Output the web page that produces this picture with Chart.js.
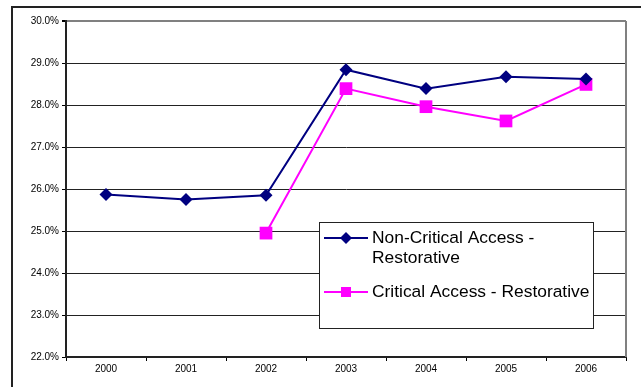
<!DOCTYPE html>
<html>
<head>
<meta charset="utf-8">
<script src="https://cdn.jsdelivr.net/npm/chart.js@4"></script>
<style>
  html, body { margin: 0; padding: 0; background: #fff; }
  #chart { display: block; }
</style>
</head>
<body>
<canvas id="chart" width="641" height="387"></canvas>
<script>
const years = ['2000', '2001', '2002', '2003', '2004', '2005', '2006'];
const nonCritical = [25.87, 25.75, 25.85, 28.84, 28.39, 28.67, 28.62];
const critical = [null, null, 24.95, 28.39, 27.96, 27.62, 28.49];
const seriesNames = [['Non-Critical Access -', 'Restorative'], ['Critical Access - Restorative']];
const yMin = 22, yMax = 30;

const NAVY = '#000080';
const MAGENTA = '#FF00FF';

Chart.defaults.font.family = '"Liberation Sans", Arial, sans-serif';
Chart.defaults.font.size = 10;
Chart.defaults.color = '#000';

// outer frame, right plot border, and the boxed legend
const framePlugin = {
    id: 'frame',
    beforeDraw(chart) {
        const ctx = chart.ctx;
        ctx.save();
        ctx.strokeStyle = '#222';
        ctx.lineWidth = 2;
        ctx.beginPath();
        ctx.moveTo(12, 400);
        ctx.lineTo(12, 7);
        ctx.lineTo(660, 7);
        ctx.stroke();
        ctx.restore();
    },
    beforeDatasetsDraw(chart) {
        const { ctx, chartArea } = chart;
        ctx.save();
        ctx.strokeStyle = '#808080';
        ctx.lineWidth = 2;
        ctx.beginPath();
        ctx.moveTo(chartArea.right, chartArea.top);
        ctx.lineTo(chartArea.right, chartArea.bottom);
        ctx.stroke();
        ctx.restore();
    },
    afterDraw(chart) {
        const ctx = chart.ctx;
        const box = { x: 319, y: 222, w: 274, h: 106 };
        ctx.save();
        ctx.fillStyle = '#fff';
        ctx.fillRect(box.x, box.y, box.w, box.h);
        ctx.strokeStyle = '#222';
        ctx.lineWidth = 1;
        ctx.strokeRect(box.x + 0.5, box.y + 0.5, box.w, box.h);

        const rows = [
            { y: 238, color: NAVY, marker: 'diamond', lines: seriesNames[0] },
            { y: 292, color: MAGENTA, marker: 'square', lines: seriesNames[1] }
        ];
        ctx.font = '17.4px "Liberation Sans", Arial, sans-serif';
        ctx.textBaseline = 'middle';
        rows.forEach(r => {
            ctx.strokeStyle = r.color;
            ctx.lineWidth = 2;
            ctx.beginPath();
            ctx.moveTo(324, r.y);
            ctx.lineTo(368, r.y);
            ctx.stroke();
            ctx.fillStyle = r.color;
            if (r.marker === 'diamond') {
                ctx.beginPath();
                ctx.moveTo(346, r.y - 6);
                ctx.lineTo(352, r.y);
                ctx.lineTo(346, r.y + 6);
                ctx.lineTo(340, r.y);
                ctx.closePath();
                ctx.fill();
            } else {
                ctx.fillRect(341, r.y - 5, 10, 10);
            }
            ctx.fillStyle = '#000';
            r.lines.forEach((t, i) => ctx.fillText(t, 372, r.y + i * 20));
        });
        ctx.restore();
    }
};

new Chart(document.getElementById('chart'), {
    type: 'line',
    data: {
        labels: years,
        datasets: [
            {
                label: seriesNames[0].join(' '),
                data: nonCritical,
                borderColor: NAVY,
                backgroundColor: NAVY,
                borderWidth: 2,
                pointStyle: 'rectRot',
                pointRadius: 6.5,
                pointBorderWidth: 0,
                tension: 0
            },
            {
                label: seriesNames[1].join(' '),
                data: critical,
                borderColor: MAGENTA,
                backgroundColor: MAGENTA,
                borderWidth: 2,
                pointStyle: 'rect',
                pointRadius: 9,
                pointBorderWidth: 0,
                tension: 0
            }
        ]
    },
    options: {
        responsive: false,
        animation: false,
        layout: { padding: { top: 21, right: 15, left: 0, bottom: 0 } },
        plugins: {
            legend: { display: false },
            tooltip: { enabled: false }
        },
        scales: {
            x: {
                offset: true,
                grid: {
                    offset: true,
                    drawOnChartArea: false,
                    drawTicks: true,
                    tickLength: 4,
                    color: '#000'
                },
                border: { color: '#222', width: 2 },
                ticks: { padding: 2, maxRotation: 0 },
                afterFit(scale) { scale.height = 30; }
            },
            y: {
                min: yMin,
                max: yMax,
                grid: {
                    color: ctx => ctx.tick && ctx.tick.value === yMax ? '#808080' : '#222',
                    lineWidth: ctx => ctx.tick && ctx.tick.value === yMax ? 2 : 1,
                    tickLength: 4,
                    tickColor: '#000'
                },
                border: { color: '#222', width: 2 },
                ticks: {
                    stepSize: 1,
                    padding: 3,
                    callback: v => v.toFixed(1) + '%'
                },
                afterFit(scale) { scale.width = 66; }
            }
        }
    },
    plugins: [framePlugin]
});
</script>
</body>
</html>
